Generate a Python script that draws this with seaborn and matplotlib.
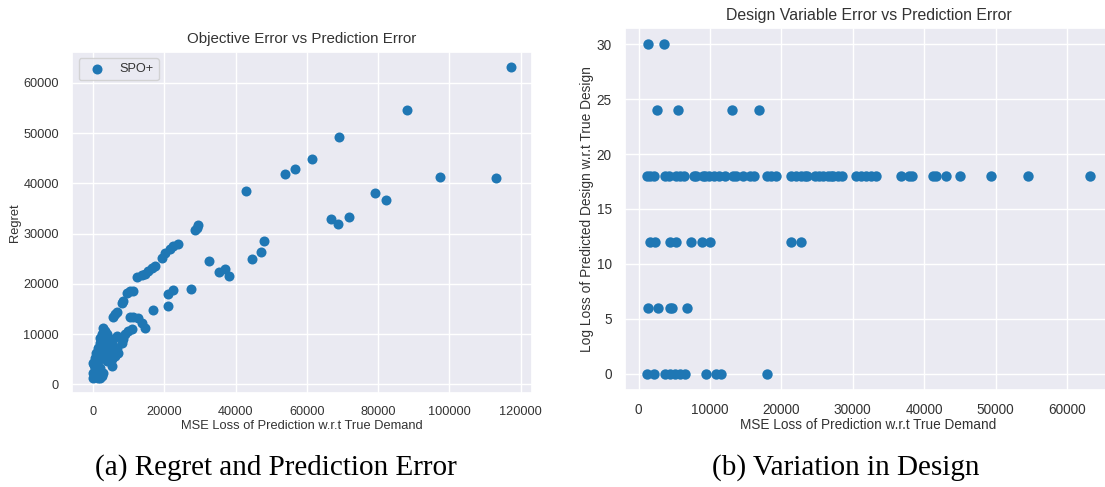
import matplotlib
matplotlib.use("Agg")
import matplotlib.pyplot as plt
import seaborn as sns
import numpy as np

# ---- data (left: regret vs MSE, values in thousands) ----
left_mse_k = [
    117.2, 88.1, 69.1, 61.5, 56.7, 53.9, 43.0, 97.3, 113.2, 79.1, 82.1, 66.8, 68.6, 71.7,
    48.1, 47.2, 44.7, 32.5, 35.3, 36.9, 38.1, 27.4,
    28.5, 29.2, 29.5, 23.8, 22.4, 21.5, 20.1, 19.2, 17.3, 16.4, 15.4, 14.5, 13.6, 12.3,
    22.3, 21.0, 21.0, 16.8,
    9.4, 10.3, 11.2, 8.4, 8.0, 6.1, 6.7, 5.6,
    10.3, 11.2, 12.6, 13.6, 14.5,
    10.8, 9.8, 8.9, 8.4, 8.0,
    2.8, 3.3, 2.4, 1.9, 1.9, 1.4, 0.9, 0.5, 0.0, 0.5, 0.0, 0.0, 1.4, 1.9, 2.4,
    5.2, 5.6, 6.6, 7.0, 6.1, 5.2, 3.8, 4.2, 4.7, 5.6, 6.6, 3.8, 2.8, 3.3, 2.4, 1.4, 1.9,
    2.8, 3.8, 4.7, 1.0, 0.3, 2.0, 3.0, 0.8,
]
left_regret_k = [
    63.1, 54.6, 49.2, 44.9, 42.9, 41.8, 38.4, 41.3, 41.1, 38.0, 36.7, 32.8, 31.9, 33.2,
    28.5, 26.4, 25.0, 24.6, 22.4, 22.9, 21.6, 19.0,
    30.7, 31.1, 31.7, 27.9, 27.5, 26.9, 26.2, 25.2, 23.6, 23.1, 22.6, 22.0, 21.7, 21.4,
    18.7, 17.9, 15.5, 14.7,
    18.2, 18.5, 18.6, 16.6, 16.1, 13.9, 14.3, 13.3,
    13.3, 13.3, 13.1, 12.3, 11.3,
    11.0, 10.6, 10.0, 9.0, 8.3,
    11.3, 10.6, 10.0, 9.3, 8.3, 7.3, 6.3, 5.3, 4.3, 3.3, 2.3, 1.3, 1.3, 1.3, 1.7,
    3.6, 7.6, 7.3, 6.3, 5.6, 5.0, 4.6, 6.6, 8.6, 9.0, 9.6, 10.0, 8.3, 7.3, 5.6, 4.6, 3.3,
    2.3, 6.3, 6.6, 5.8, 3.8, 6.0, 9.5, 2.0,
]
left_mse = [v * 1000 for v in left_mse_k]
left_regret = [v * 1000 for v in left_regret_k]

# ---- data (right: design log loss vs MSE, MSE in thousands) ----
right_mse_k = [
    1.26, 3.58,
    2.56, 5.58, 13.1, 16.8,
    1.2, 1.6, 2.1, 3.7, 4.2, 5.3, 5.8, 6.4, 7.7, 8.1, 9.0, 9.3, 9.8, 10.6, 11.2, 12.1,
    13.2, 13.6, 14.6, 15.6, 16.1, 18.0, 18.6, 19.2, 21.3, 22.0, 22.7, 23.3, 23.6, 24.7,
    25.3, 25.9, 26.5, 27.0, 27.3, 27.9, 28.5, 30.5, 31.2, 31.9, 32.6, 33.3, 36.7, 37.9,
    38.3, 41.2, 41.7, 43.0, 45.0, 49.3, 54.6, 63.2,
    1.6, 2.3, 4.4, 5.3, 7.3, 8.9, 10.0, 21.3, 22.7,
    1.26, 2.7, 4.4, 4.7, 6.8,
    1.2, 2.1, 3.7, 4.4, 5.1, 5.8, 6.5, 9.4, 10.8, 11.5, 18.0,
]
right_logloss = (
    [30] * 2 + [24] * 4 + [18] * 52 + [12] * 9 + [6] * 5 + [0] * 11
)
right_mse = [v * 1000 for v in right_mse_k]

sns.set_theme(style="darkgrid")
plt.rcParams['font.family'] = ['Liberation Sans', 'DejaVu Sans']

fig = plt.figure(figsize=(11.05, 4.87), dpi=100)
ax1 = fig.add_axes([0.0654, 0.1924, 0.4156, 0.7014])
ax2 = fig.add_axes([0.5656, 0.1992, 0.4407, 0.7433])

blue = "#1f77b4"
sns.scatterplot(x=left_mse, y=left_regret, ax=ax1, s=52, linewidth=0,
                color=blue, label="SPO+")
sns.scatterplot(x=right_mse, y=right_logloss, ax=ax2, s=56, linewidth=0,
                color=blue)

txt = "#333333"

ax1.set_title("Objective Error vs Prediction Error", fontsize=10.9, color=txt)
ax1.set_xlabel("MSE Loss of Prediction w.r.t True Demand", fontsize=9.3, color=txt,
               labelpad=1)
ax1.set_ylabel("Regret", fontsize=9.3, color=txt, labelpad=2)
ax1.set_xticks([0, 20000, 40000, 60000, 80000, 100000, 120000])
ax1.set_yticks([0, 10000, 20000, 30000, 40000, 50000, 60000])
ax1.tick_params(labelsize=9.2, labelcolor=txt)
leg = ax1.legend(loc="upper left", fontsize=9.2)
for t in leg.get_texts():
    t.set_color(txt)

ax2.set_title("Design Variable Error vs Prediction Error", fontsize=11.4, color=txt)
ax2.set_xlabel("MSE Loss of Prediction w.r.t True Demand", fontsize=9.8, color=txt,
               labelpad=0.5)
ax2.set_ylabel("Log Loss of Predicted Design w.r.t True Design", fontsize=9.9, color=txt,
               labelpad=2)
ax2.set_xticks([0, 10000, 20000, 30000, 40000, 50000, 60000])
ax2.set_yticks([0, 5, 10, 15, 20, 25, 30])
ax2.tick_params(labelsize=9.8, labelcolor=txt)

fig.text(0.2498, 0.041, "(a) Regret and Prediction Error", ha="center", va="center",
         family=["Liberation Serif", "DejaVu Serif"], fontsize=21, color="black")
fig.text(0.7656, 0.041, "(b) Variation in Design", ha="center", va="center",
         family=["Liberation Serif", "DejaVu Serif"], fontsize=21, color="black")

fig.savefig("out.png", dpi=100, facecolor="white")
